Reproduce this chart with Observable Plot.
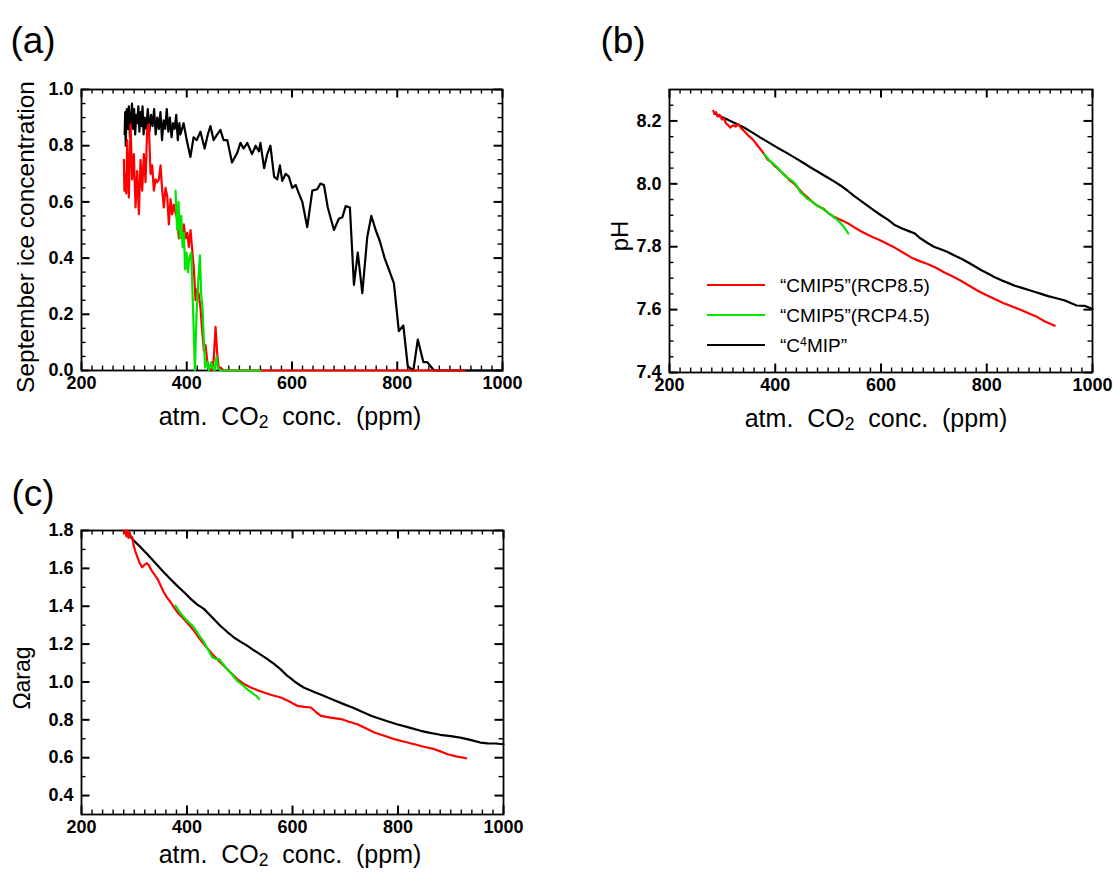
<!DOCTYPE html>
<html>
<head>
<meta charset="utf-8">
<script src="https://cdn.jsdelivr.net/npm/d3@7"></script>
<script src="https://cdn.jsdelivr.net/npm/@observablehq/plot@0.6"></script>
<style>
  html, body { margin: 0; padding: 0; background: #fff; }
  #wrap { position: relative; width: 1113px; height: 874px; overflow: hidden;
          font-family: "Liberation Sans", Arial, Helvetica, sans-serif; color: #000; }
  .abs { position: absolute; white-space: nowrap; line-height: 1; }
  .plot { position: absolute; }
</style>
</head>
<body>
<div id="wrap"></div>
<script>
const seriesNames = ["\u201CC\u2074MIP\u201D", "\u201CCMIP5\u201D(RCP8.5)", "\u201CCMIP5\u201D(RCP4.5)"];
const seriesColors = ["#000000", "#ff0000", "#00e600"];
const xDomain = [200, 1000];
const xMajor = [200, 400, 600, 800, 1000];
const xMinor = [220,240,260,280,300,320,340,360,380,420,440,460,480,500,520,540,560,580,620,640,660,680,700,720,740,760,780,820,840,860,880,900,920,940,960,980];

// (a) September ice concentration
const iceDomain = [0, 1];
const iceMajor = [0, 0.2, 0.4, 0.6, 0.8, 1.0];
const iceMinor = [0.05,0.1,0.15,0.25,0.3,0.35,0.45,0.5,0.55,0.65,0.7,0.75,0.85,0.9,0.95];
const iceC4MIP = [
  [282,0.84],[283,0.92],[284,0.80],[286,0.93],[288,0.86],[290,0.94],[292,0.83],[294,0.90],[296,0.95],[298,0.86],
  [300,0.93],[302,0.84],[304,0.91],[306,0.88],[308,0.94],[310,0.85],[312,0.92],[314,0.87],[316,0.94],[318,0.84],
  [320,0.90],[323,0.86],[326,0.93],[329,0.85],[332,0.91],[335,0.87],[338,0.93],[341,0.84],[344,0.90],[347,0.86],
  [350,0.92],[353,0.82],[356,0.89],[359,0.86],[362,0.93],[365,0.85],[368,0.90],[371,0.83],[374,0.88],[377,0.86],
  [380,0.91],[383,0.82],[386,0.88],[388,0.84],[394,0.88],[400,0.82],[407,0.76],[413,0.83],[419,0.82],[426,0.85],
  [434,0.79],[440,0.84],[445,0.87],[451,0.82],[458,0.84],[464,0.856],[470,0.82],[477,0.82],[486,0.74],[496,0.775],
  [502,0.81],[508,0.79],[515,0.81],[524,0.77],[531,0.80],[537,0.78],[540,0.81],[547,0.72],[553,0.77],[559,0.80],
  [566,0.69],[572,0.68],[577,0.73],[581.5,0.675],[588,0.70],[594,0.69],[600.5,0.65],[607,0.66],[613,0.63],[619.6,0.60],
  [629,0.51],[638.6,0.64],[648,0.645],[654,0.665],[660.7,0.66],[668,0.58],[679.7,0.50],[689,0.54],[695.6,0.545],[702,0.585],
  [710,0.58],[717.7,0.305],[725,0.42],[733.6,0.275],[743,0.475],[750.7,0.55],[759,0.50],[767,0.46],[776,0.40],[784,0.36],
  [793.7,0.31],[803,0.14],[811.6,0.16],[820,0.015],[830.6,0.0],[839,0.11],[849.6,0.03],[857,0.03],[870,0.0],[1000,0.0]
];
const iceRCP85 = [
  [280.5,0.75],[281.5,0.64],[283.6,0.70],[285,0.63],[286.8,0.82],[290,0.616],[293.2,0.876],[296.3,0.68],[299.5,0.77],[302.7,0.58],
  [305.8,0.71],[309,0.556],[312.2,0.75],[315.3,0.64],[318.5,0.77],[321.7,0.67],[324.8,0.86],[328,0.876],[331.2,0.70],[334.3,0.73],
  [337.5,0.64],[340.7,0.68],[343.9,0.67],[347,0.68],[350.2,0.73],[353.4,0.64],[356.5,0.58],[359.7,0.65],[362.9,0.62],[366,0.52],
  [369.2,0.61],[372.4,0.556],[375.5,0.59],[378.7,0.56],[381.9,0.54],[385,0.47],[388.2,0.53],[391.4,0.48],[394.5,0.52],[397.7,0.47],
  [400.9,0.49],[404,0.44],[407.2,0.50],[410.4,0.43],[413.6,0.36],[416.7,0.25],[419.9,0.29],[423,0.27],[426.2,0.22],[429.4,0.14],
  [432.6,0.07],[435.7,0.09],[438.9,0.035],[442,0.01],[448.4,0.0],[451.6,0.05],[454.7,0.155],[457.9,0.06],[461,0.005],[464.2,0.01],
  [470.6,0.0],[928,0.0]
];
const iceRCP45 = [
  [378.7,0.64],[381.9,0.50],[384.4,0.60],[386.9,0.47],[389.5,0.55],[392,0.44],[394.5,0.49],[397,0.36],[399.6,0.42],[402.2,0.35],
  [404.7,0.40],[408.5,0.42],[412.3,0.20],[415.5,0.0],[418.6,0.20],[421.2,0.30],[425,0.41],[427.5,0.27],[430,0.22],[432.6,0.10],
  [435,0.01],[438.9,0.03],[442,0.0],[446.5,0.03],[449,0.01],[452.9,0.0],[456.6,0.05],[459,0.01],[464,0.0],[540,0.0]
];

// (b) pH
const phDomain = [7.4, 8.3];
const phMajor = [7.4, 7.6, 7.8, 8.0, 8.2];
const phMinor = [7.45,7.5,7.55,7.65,7.7,7.75,7.85,7.9,7.95,8.05,8.1,8.15,8.25];
const phC4MIP = [
  [287,8.223],[295,8.215],[309,8.205],[325,8.192],[341,8.179],[357,8.163],[372,8.147],[388,8.131],[404,8.115],[420,8.10],
  [436,8.084],[452,8.068],[467,8.052],[483,8.036],[499,8.02],[512,8.007],[524,7.994],[537,7.978],[549,7.962],[562,7.946],
  [575,7.93],[588,7.914],[600,7.90],[613,7.886],[625,7.870],[640,7.858],[655,7.848],[663,7.843],[675,7.826],[688,7.812],
  [700,7.80],[713,7.792],[726,7.783],[740,7.771],[752,7.762],[765,7.75],[778,7.737],[790,7.725],[803,7.714],[815,7.703],
  [828,7.693],[840,7.685],[853,7.676],[865,7.670],[878,7.663],[890,7.657],[903,7.650],[916,7.643],[930,7.637],[948,7.629],
  [960,7.620],[970,7.613],[985,7.612],[1000,7.602]
];
const phRCP85 = [
  [283,8.232],[285,8.222],[288,8.228],[291,8.214],[295,8.219],[299,8.205],[303,8.208],[307,8.192],[311,8.186],[315,8.179],
  [320,8.186],[325,8.182],[330,8.190],[335,8.178],[341,8.168],[348,8.155],[357,8.142],[365,8.125],[372,8.11],[379,8.095],
  [385,8.078],[392,8.07],[398,8.058],[404,8.05],[410,8.04],[418,8.028],[427,8.012],[436,8.0],[444,7.985],[452,7.97],
  [461,7.957],[470,7.943],[480,7.93],[492,7.92],[500,7.907],[510,7.896],[520,7.888],[527,7.883],[540,7.872],[551,7.860],
  [562,7.849],[575,7.838],[585,7.830],[594,7.824],[605,7.815],[615,7.806],[625,7.798],[640,7.783],[657,7.766],[672,7.755],
  [688,7.745],[704,7.733],[720,7.718],[735,7.706],[751,7.692],[767,7.676],[783,7.66],[798,7.647],[815,7.634],[830,7.622],
  [848,7.61],[865,7.599],[880,7.588],[895,7.577],[910,7.562],[920,7.555],[928.6,7.549]
];
const phRCP45 = [
  [379,8.094],[384,8.085],[390,8.072],[396,8.065],[404,8.052],[410,8.04],[416,8.03],[423,8.02],[430,8.012],[436,8.004],
  [442,7.99],[448,7.972],[455,7.962],[461,7.952],[467,7.946],[474,7.938],[480,7.93],[486,7.925],[492,7.918],[498,7.91],
  [505,7.902],[511,7.893],[517,7.886],[522,7.878],[527,7.869],[531,7.86],[535,7.85],[538,7.842]
];

// (c) aragonite saturation state
const omDomain = [0.3, 1.8];
const omMajor = [0.4, 0.6, 0.8, 1.0, 1.2, 1.4, 1.6, 1.8];
const omMinor = [0.5, 0.7, 0.9, 1.1, 1.3, 1.5, 1.7];
const omC4MIP = [
  [283,1.79],[290,1.775],[299,1.747],[312,1.712],[324,1.677],[340,1.628],[356,1.58],[368,1.545],[381,1.509],[394,1.475],
  [407,1.439],[419,1.41],[432,1.386],[448,1.34],[463,1.297],[476,1.265],[489,1.235],[502,1.212],[514,1.192],[524,1.172],
  [533,1.156],[549,1.127],[565,1.095],[577,1.068],[590,1.033],[605,1.0],[621,0.971],[640,0.948],[659,0.927],[678,0.905],
  [697,0.883],[716,0.862],[735,0.839],[750,0.82],[767,0.804],[783,0.79],[798,0.777],[820,0.76],[843,0.742],[861,0.731],
  [880,0.721],[900,0.714],[918,0.706],[937,0.694],[956,0.68],[970,0.676],[985,0.675],[1000,0.671]
];
const omRCP85 = [
  [280.5,1.79],[283,1.80],[285,1.77],[287,1.80],[289,1.76],[291,1.79],[293,1.77],[296,1.765],[299,1.72],[302,1.69],
  [306,1.659],[310,1.63],[315,1.606],[320,1.62],[324,1.627],[328,1.615],[331,1.597],[337,1.572],[344,1.545],[350,1.51],
  [356,1.474],[362,1.447],[369,1.421],[375,1.395],[382,1.368],[388,1.35],[394,1.333],[403,1.305],[413,1.271],[422,1.235],
  [432,1.2],[441,1.17],[451,1.139],[463,1.104],[476,1.068],[486,1.04],[495,1.015],[508,0.99],[521,0.971],[533,0.957],
  [546,0.944],[562,0.93],[578,0.918],[594,0.897],[609,0.874],[622,0.868],[635,0.865],[645,0.84],[654,0.821],[672,0.812],
  [692,0.804],[707,0.79],[723,0.777],[739,0.755],[755,0.733],[774,0.716],[793,0.698],[812,0.684],[831,0.671],[849,0.658],
  [869,0.645],[882,0.632],[894,0.618],[910,0.607],[929,0.597]
];
const omRCP45 = [
  [378,1.403],[386,1.37],[394,1.342],[403,1.316],[413,1.289],[422,1.25],[432,1.21],[440,1.17],[448,1.13],[454,1.122],
  [461,1.121],[468,1.095],[476,1.068],[486,1.037],[495,1.006],[505,0.985],[514,0.962],[521,0.948],[527,0.935],[532,0.925],
  [537,0.91]
];

const FONT = '"Liberation Sans", Arial, Helvetica, sans-serif';
const wrap = document.getElementById("wrap");

// inward tick marks on all four sides; pixel lengths converted through the scale extents
function inwardTicks(xs, ys, lenPx, pw, ph, yDomain, sw) {
  const [x0, x1] = xDomain, [y0, y1] = yDomain;
  const dx = lenPx / pw * (x1 - x0), dy = lenPx / ph * (y1 - y0);
  const st = {stroke: "black", strokeWidth: sw};
  return [
    Plot.ruleX(xs, {...st, x: d => d, y1: () => y0, y2: () => y0 + dy}),
    Plot.ruleX(xs, {...st, x: d => d, y1: () => y1, y2: () => y1 - dy}),
    Plot.ruleY(ys, {...st, y: d => d, x1: () => x0, x2: () => x0 + dx}),
    Plot.ruleY(ys, {...st, y: d => d, x1: () => x1, x2: () => x1 - dx})
  ];
}

function panel({series, yDomain, yMajor, yMinor, width, height, mt, mr, mb, ml}) {
  const pw = width - ml - mr, ph = height - mt - mb;
  return Plot.plot({
    width, height,
    marginTop: mt, marginRight: mr, marginBottom: mb, marginLeft: ml,
    x: {domain: xDomain},
    y: {domain: yDomain},
    style: {fontFamily: FONT, fontSize: "18px", fontWeight: "bold", color: "#000", background: "transparent", overflow: "visible"},
    marks: [
      Plot.frame({stroke: "black", strokeWidth: 1.8, fill: "none"}),
      ...inwardTicks(xMinor, yMinor, 4.5, pw, ph, yDomain, 1.4),
      ...inwardTicks(xMajor, yMajor, 8.5, pw, ph, yDomain, 2),
      Plot.axisX(xMajor, {anchor: "bottom", tickSize: 0, tickPadding: 6, label: null, tickFormat: d => String(d), fontWeight: "bold"}),
      Plot.axisY(yMajor, {anchor: "left", tickSize: 0, tickPadding: 8, label: null, tickFormat: d3.format(".1f"), fontWeight: "bold"}),
      ...series.map(s => Plot.line(s.data, {x: d => d[0], y: d => d[1], stroke: s.color, strokeWidth: 2.2, strokeLinejoin: "round"}))
    ]
  });
}

function place(node, left, top) {
  node.classList.add("plot");
  node.style.left = left + "px";
  node.style.top = top + "px";
  wrap.appendChild(node);
}

function text(html, cx, cy, size, rotate = 0) {
  const d = document.createElement("div");
  d.className = "abs";
  d.innerHTML = html;
  d.style.cssText += `left:${cx}px;top:${cy}px;font-size:${size}px;transform:translate(-50%,-50%) rotate(${rotate}deg);`;
  wrap.appendChild(d);
}

const mk = (a, b, c) => [
  {data: a, color: seriesColors[0]},
  {data: b, color: seriesColors[1]},
  {data: c, color: seriesColors[2]}
];

place(panel({series: mk(iceC4MIP, iceRCP85, iceRCP45), yDomain: iceDomain, yMajor: iceMajor, yMinor: iceMinor,
  width: 540, height: 440, mt: 89, mr: 38, mb: 70, ml: 81}), 0, 0);
place(panel({series: mk(phC4MIP, phRCP85, phRCP45), yDomain: phDomain, yMajor: phMajor, yMinor: phMinor,
  width: 553, height: 440, mt: 89, mr: 21, mb: 68, ml: 109}), 560, 0);
place(panel({series: mk(omC4MIP, omRCP85, omRCP45), yDomain: omDomain, yMajor: omMajor, yMinor: omMinor,
  width: 540, height: 424, mt: 80, mr: 37, mb: 60, ml: 81}), 0, 450);

text("(a)", 33, 40, 37);
text("(b)", 623, 40, 37);
text("(c)", 33, 493, 37);

const xt = 'atm.&nbsp;&nbsp;CO<span style="font-size:70%;vertical-align:-0.15em">2</span>&nbsp;&nbsp;conc.&nbsp;&nbsp;(ppm)';
text(xt, 290, 418, 25);
text(xt, 876, 420, 25);
text(xt, 290, 856, 25);
text("September ice concentration", 26, 237, 24.5, -90);
text("pH", 620, 236, 24, -90);
text("\u03A9arag", 22, 678, 23, -90);

const legendOrder = [1, 2, 0];
legendOrder.forEach((k, i) => {
  const y = 285 + i * 30;
  const line = document.createElement("div");
  line.className = "abs";
  line.style.cssText = `left:707px;top:${y - 1}px;width:58px;height:2px;background:${seriesColors[k]};`;
  wrap.appendChild(line);
  const lab = document.createElement("div");
  lab.className = "abs";
  lab.style.cssText = `left:780px;top:${y}px;font-size:19px;transform:translateY(-50%);`;
  lab.innerHTML = k === 0 ? '\u201CC<span style="font-size:65%;vertical-align:0.45em">4</span>MIP\u201D' : seriesNames[k];
  wrap.appendChild(lab);
});
</script>
</body>
</html>
